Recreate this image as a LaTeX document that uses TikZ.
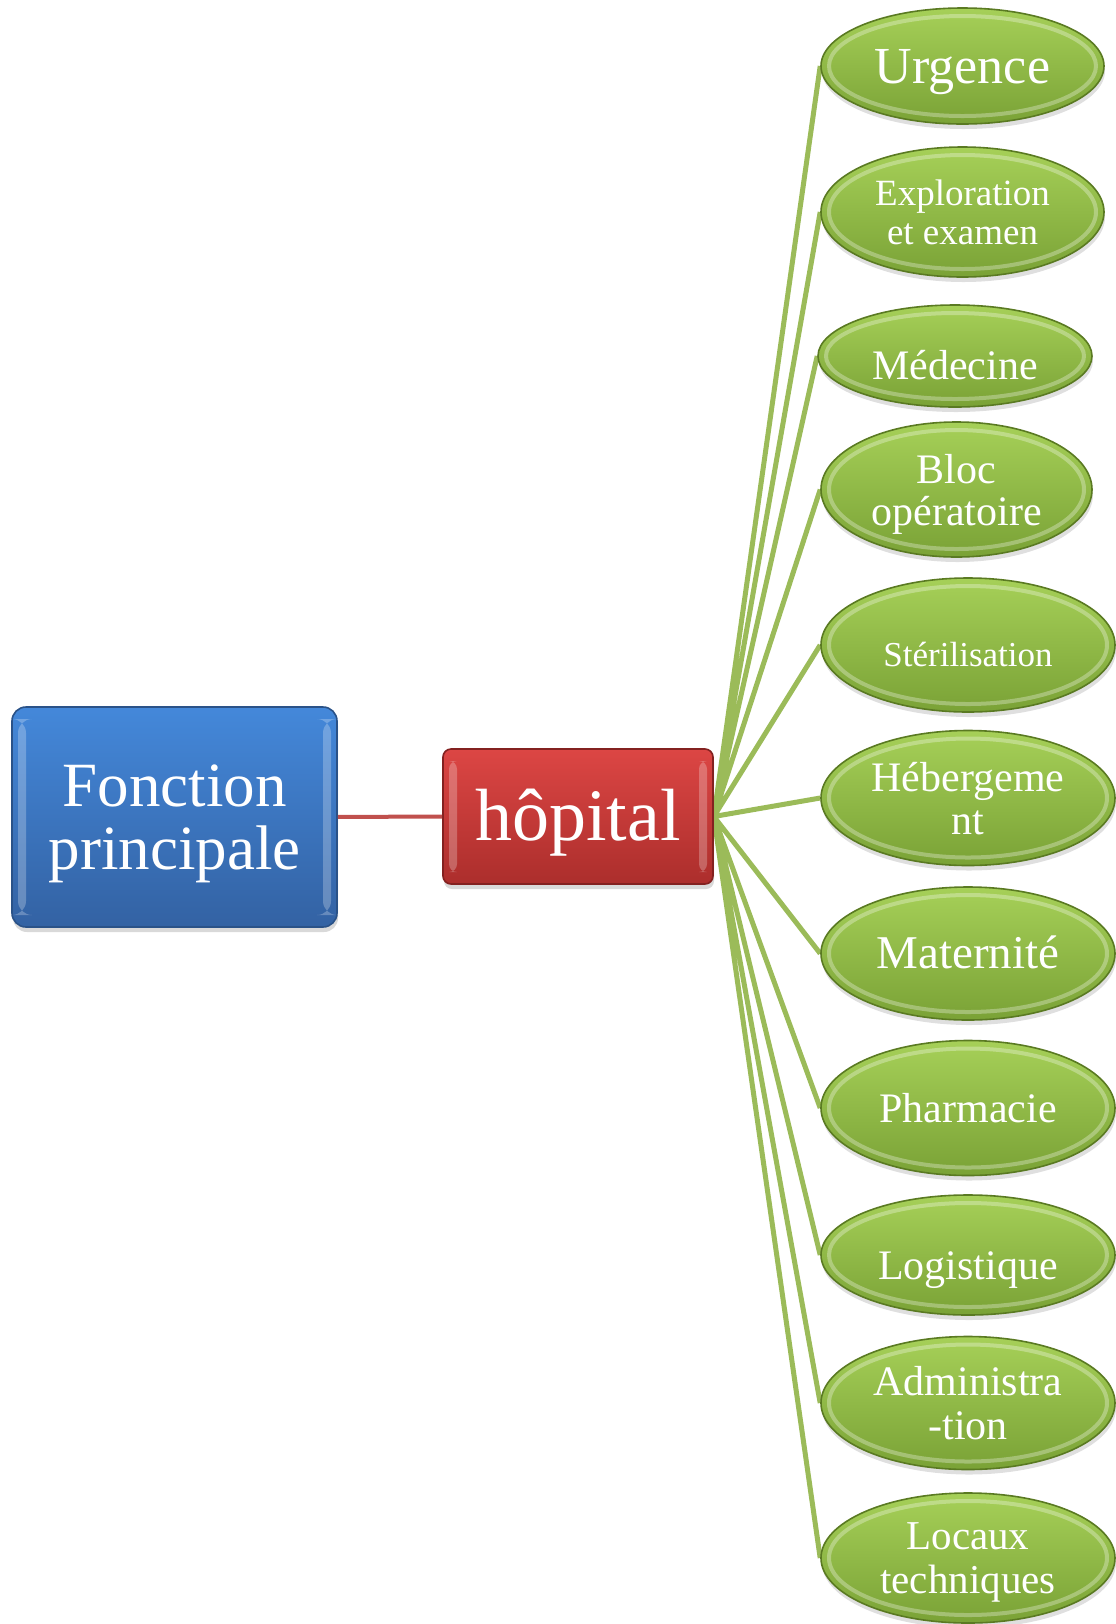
\documentclass[tikz,border=0pt]{standalone}
\usepackage{fontspec}
\setmainfont{Liberation Serif}
\usepackage{tikz}
\usetikzlibrary{
	shapes.geometric,
	shadows,
	backgrounds,
	calc
}

\definecolor{bleuhaut}{HTML}{4488DA}
\definecolor{bleubas}{HTML}{3362A3}
\definecolor{bleubord}{HTML}{2A5288}
\definecolor{rougehaut}{HTML}{DC4644}
\definecolor{rougebas}{HTML}{AC2E2C}
\definecolor{rougebord}{HTML}{832120}
\definecolor{verthaut}{HTML}{A6D058}
\definecolor{vertbas}{HTML}{7AA236}
\definecolor{vertbord}{HTML}{5A7A22}
\definecolor{vertlien}{HTML}{9BBB59}
\definecolor{rougelien}{HTML}{C0504D}

\begin{document}
\begin{tikzpicture}[x=0.5pt, y=-0.5pt,
		fct/.style={rectangle, rounded corners=7pt, draw=bleubord, line width=.8pt,
			top color=bleuhaut, bottom color=bleubas, text=white, align=center,
			inner sep=0pt, text depth=0pt, minimum width=162.5pt, minimum height=110pt,
			font=\fontsize{31.5}{31.5}\selectfont,
			drop shadow={opacity=.3, shadow xshift=.5pt, shadow yshift=-2.5pt},
			path picture={
				\fill[white, opacity=.25]
					($(path picture bounding box.north west)+(3pt,-6pt)$) rectangle
					($(path picture bounding box.south west)+(7pt,6pt)$)
					($(path picture bounding box.north east)+(-3pt,-6pt)$) rectangle
					($(path picture bounding box.south east)+(-7pt,6pt)$);
			}},
		hop/.style={fct, rounded corners=4pt, draw=rougebord,
			top color=rougehaut, bottom color=rougebas,
			minimum width=135pt, minimum height=67.5pt, text height=23.5pt,
			font=\fontsize{37}{37}\selectfont},
		service/.style={ellipse, draw=vertbord, line width=.8pt,
			top color=verthaut, bottom color=vertbas, text=white, align=center,
			inner sep=0pt, text depth=0pt,
			drop shadow={opacity=.25, shadow xshift=.5pt, shadow yshift=-2.5pt},
			path picture={
				\draw[white, opacity=.3, line width=2pt]
					let \p1=($(path picture bounding box.north east)-(path picture bounding box.center)$)
					in (path picture bounding box.center) ellipse [x radius=\x1-4pt, y radius=\y1-4pt];
			}},
		lienvert/.style={draw=vertlien, line width=2.5pt},
		lienrouge/.style={draw=rougelien, line width=2pt}
	]
	\useasboundingbox (0,0) rectangle (1115,1624);

	\node[fct] (fonction) at (174.5,817) {Fonction\\principale};
	\node[hop] (hopital) at (578,816.5) {hôpital};
	\draw[lienrouge] (fonction) -- (hopital);

	% les services de l'hopital
	\node[service, minimum width=141.5pt, minimum height=58pt, text height=17pt,
		font=\fontsize{26}{26}\selectfont] (urgence) at (962.5,66) {Urgence};
	\node[service, minimum width=141.5pt, minimum height=65pt,
		font=\fontsize{18.5}{19.5}\selectfont] (exploration) at (962.5,212) {Exploration\\et examen};
	\node[service, minimum width=137pt, minimum height=51pt, text height=23pt,
		font=\fontsize{21}{21}\selectfont] (medecine) at (955,356) {Médecine};
	\node[service, minimum width=135.5pt, minimum height=67.5pt,
		font=\fontsize{21}{21}\selectfont] (bloc) at (956.5,489.5) {Bloc\\opératoire};
	\node[service, minimum width=147pt, minimum height=67pt, text height=21pt,
		font=\fontsize{17.5}{17.5}\selectfont] (sterilisation) at (968,645) {Stérilisation};
	\node[service, minimum width=147pt, minimum height=67.5pt,
		font=\fontsize{21}{21.5}\selectfont] (hebergement) at (968,798) {Hébergeme\\nt};
	\node[service, minimum width=147pt, minimum height=66.5pt, text height=15pt,
		font=\fontsize{23.5}{23.5}\selectfont] (maternite) at (968,953.5) {Maternité};
	\node[service, minimum width=147pt, minimum height=67.5pt, text height=14pt,
		font=\fontsize{21}{21}\selectfont] (pharmacie) at (968,1108) {Pharmacie};
	\node[service, minimum width=147pt, minimum height=60pt, text height=24pt,
		font=\fontsize{21}{21}\selectfont] (logistique) at (968,1255) {Logistique};
	\node[service, minimum width=147pt, minimum height=66.5pt,
		font=\fontsize{21}{22}\selectfont] (administration) at (968,1403) {Administra\\-tion};
	\node[service, minimum width=147pt, minimum height=65pt,
		font=\fontsize{20.5}{22}\selectfont] (locaux) at (968,1558) {Locaux\\techniques};

	\begin{scope}[on background layer]
		\draw[lienvert]
			(hopital.east) -- (urgence.west)
			(hopital.east) -- (exploration.west)
			(hopital.east) -- (medecine.west)
			(hopital.east) -- (bloc.west)
			(hopital.east) -- (sterilisation.west)
			(hopital.east) -- (hebergement.west)
			(hopital.east) -- (maternite.west)
			(hopital.east) -- (pharmacie.west)
			(hopital.east) -- (logistique.west)
			(hopital.east) -- (administration.west)
			(hopital.east) -- (locaux.west)
		;
	\end{scope}
\end{tikzpicture}
\end{document}
